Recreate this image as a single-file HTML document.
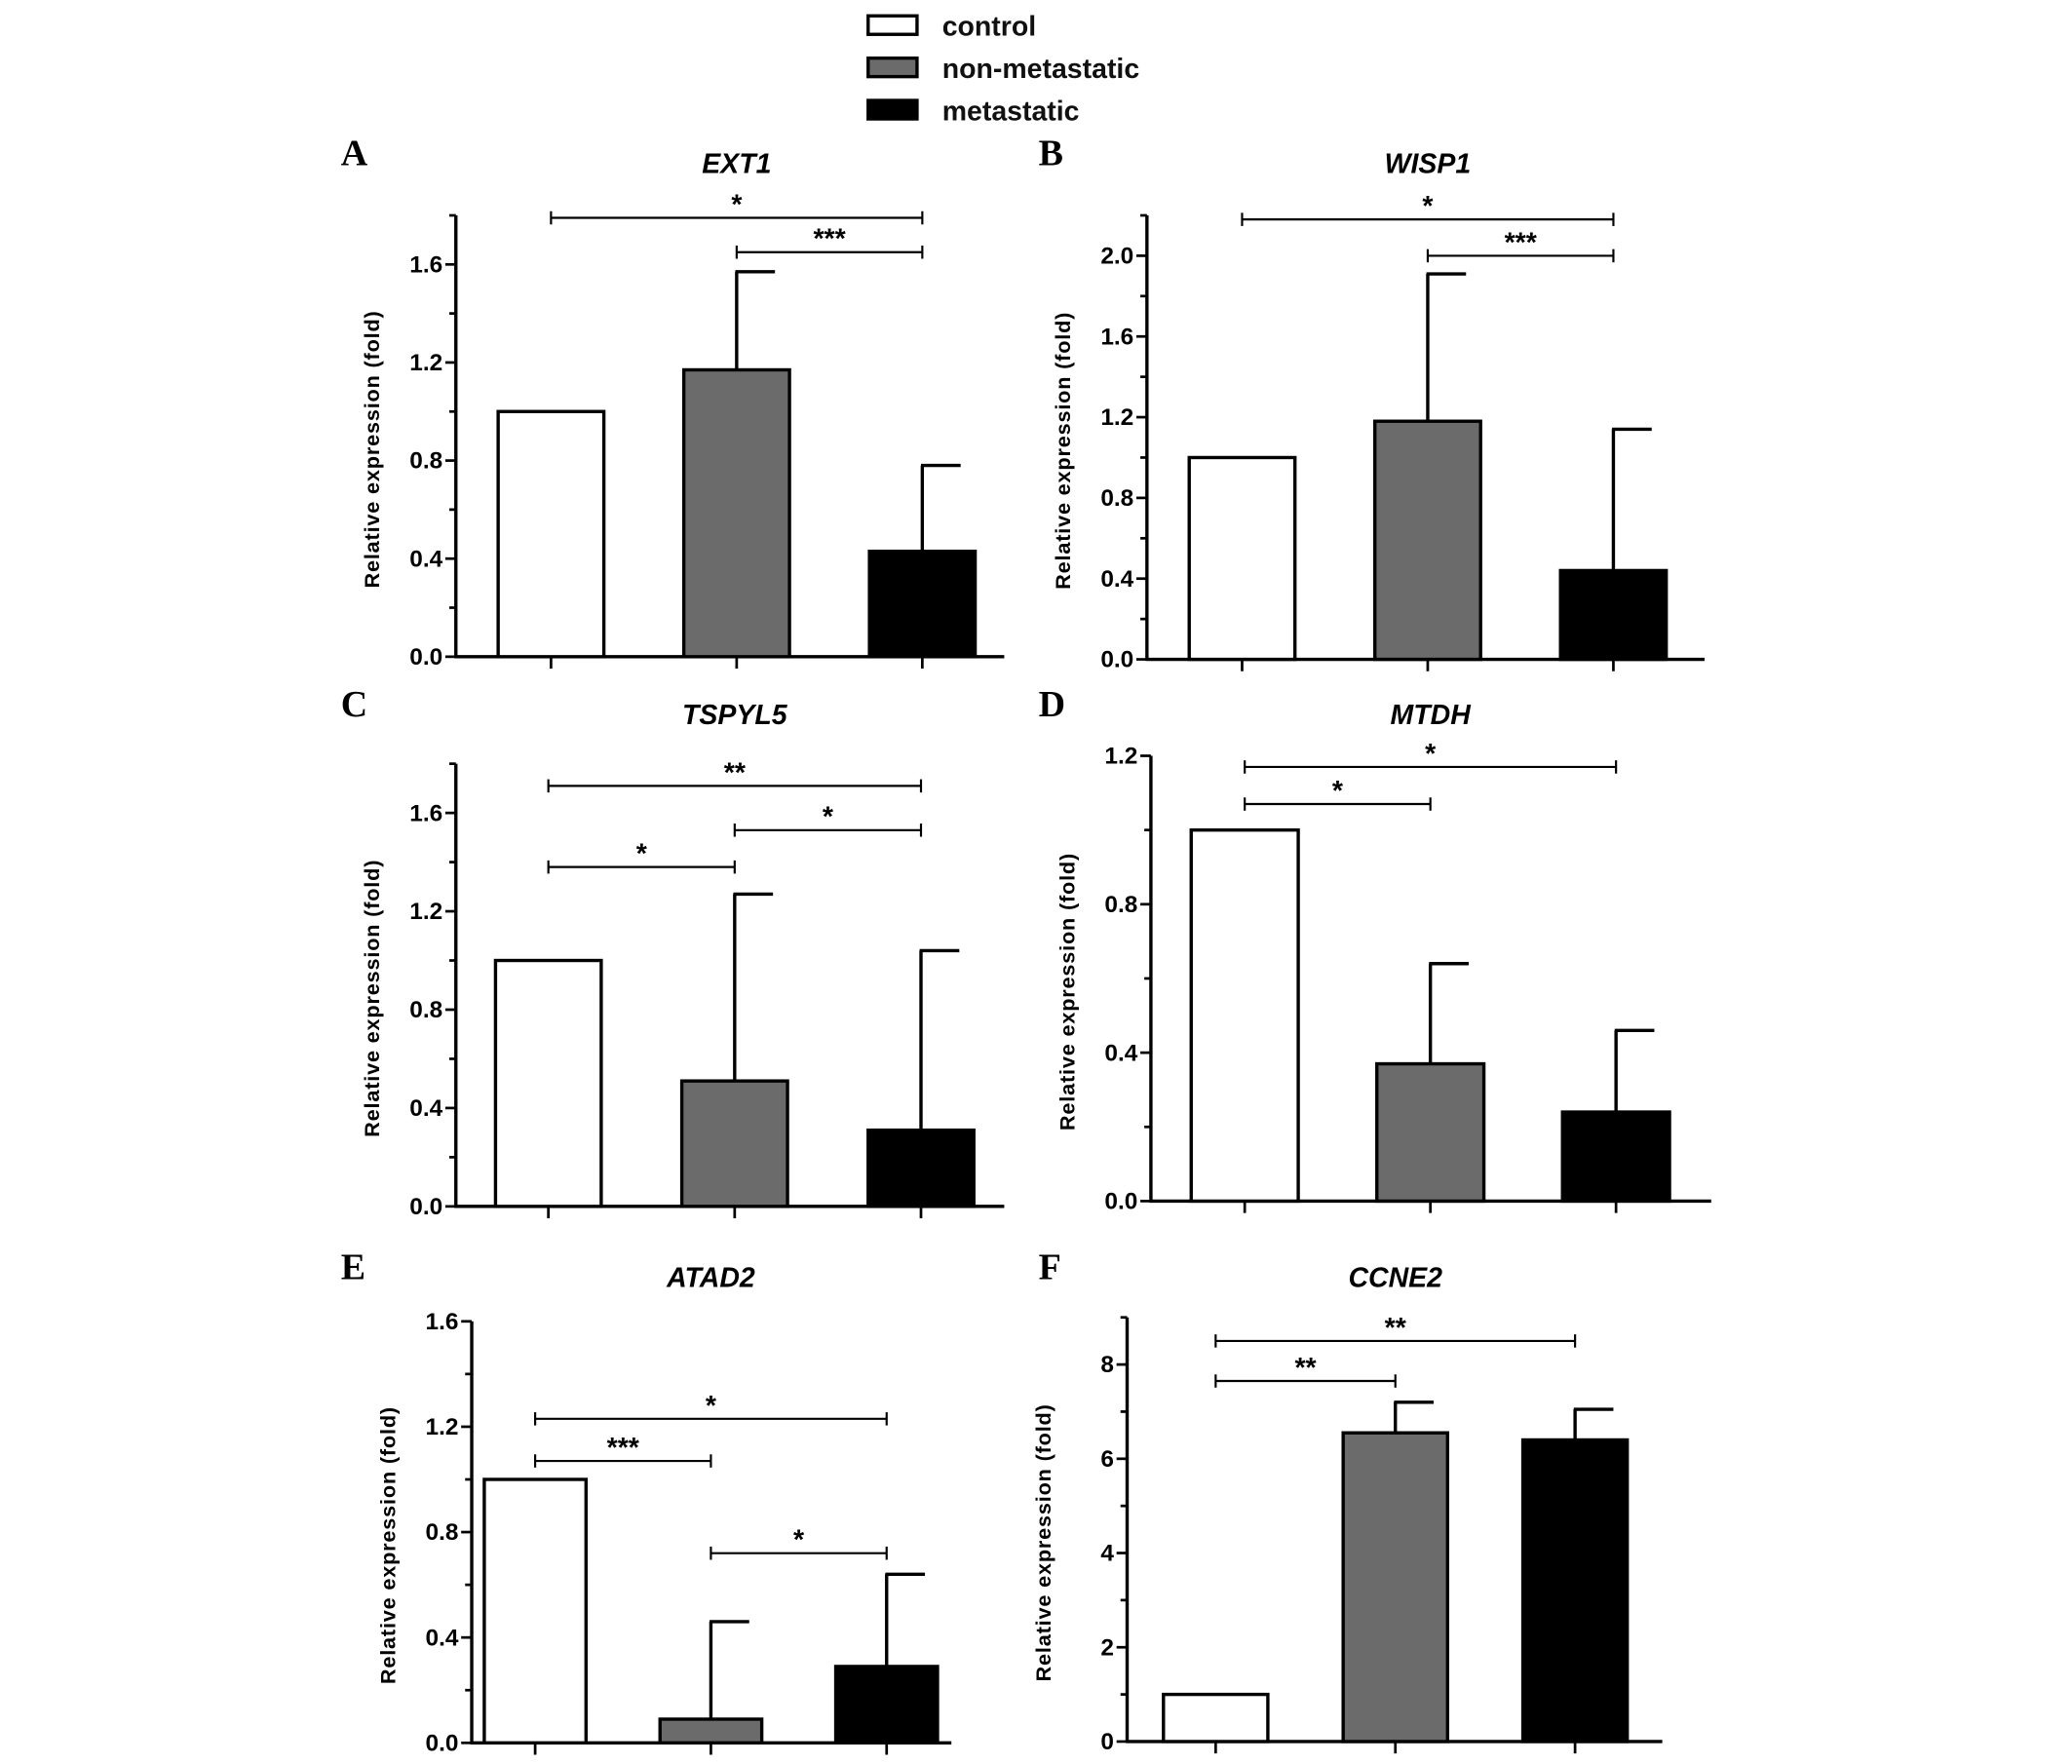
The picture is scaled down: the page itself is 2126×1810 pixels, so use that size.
<!DOCTYPE html>
<html><head><meta charset="utf-8"><style>
html,body{margin:0;padding:0;background:#fff;}
svg{display:block;}
text{font-family:"Liberation Sans",Arial,sans-serif;}
text.serif{font-family:"Liberation Serif","Times New Roman",serif;}
</style></head><body>
<svg id="fig" width="2126" height="1810" viewBox="0 0 1568 1335" preserveAspectRatio="xMinYMin meet" xmlns="http://www.w3.org/2000/svg">
<g>
  <rect x="657" y="12" width="37" height="14" fill="#fff" stroke="#000" stroke-width="2.5"/>
  <text x="713" y="27" font-size="21" font-weight="bold" fill="#111">control</text>
  <rect x="657" y="44" width="37" height="14" fill="#6b6b6b" stroke="#000" stroke-width="2.5"/>
  <text x="713" y="59" font-size="21" font-weight="bold" fill="#111">non-metastatic</text>
  <rect x="657" y="76" width="37" height="14" fill="#000" stroke="#000" stroke-width="2.5"/>
  <text x="713" y="91" font-size="21" font-weight="bold" fill="#111">metastatic</text>
</g>
</svg>
<script>
// ---- data ----
const genes = ["EXT1","WISP1","TSPYL5","MTDH","ATAD2","CCNE2"];
const panelLetters = ["A","B","C","D","E","F"];
const categories = ["control","non-metastatic","metastatic"];
const meanA = [1.0, 1.17, 0.43];
const errA  = [1.0, 1.57, 0.78];
const meanB = [1.0, 1.18, 0.44];
const errB  = [1.0, 1.91, 1.14];
const meanC = [1.0, 0.51, 0.31];
const errC  = [1.0, 1.27, 1.04];
const meanD = [1.0, 0.37, 0.24];
const errD  = [1.0, 0.64, 0.46];
const meanE = [1.0, 0.09, 0.29];
const errE  = [1.0, 0.46, 0.64];
const meanF = [1.0, 6.55, 6.4];
const errF  = [1.0, 7.2, 7.05];
const ticksA = ["0.0","0.4","0.8","1.2","1.6"];
const ticksB = ["0.0","0.4","0.8","1.2","1.6","2.0"];
const ticksC = ["0.0","0.4","0.8","1.2","1.6"];
const ticksD = ["0.0","0.4","0.8","1.2"];
const ticksE = ["0.0","0.4","0.8","1.2","1.6"];
const ticksF = ["0","2","4","6","8"];
// significance brackets: [from, to, level, label]
const sigA = [[0,2,1.79,"*"],[1,2,1.65,"***"]];
const sigB = [[0,2,2.18,"*"],[1,2,2.0,"***"]];
const sigC = [[0,2,1.71,"**"],[1,2,1.53,"*"],[0,1,1.38,"*"]];
const sigD = [[0,2,1.17,"*"],[0,1,1.07,"*"]];
const sigE = [[0,2,1.23,"*"],[0,1,1.07,"***"],[1,2,0.72,"*"]];
const sigF = [[0,2,8.5,"**"],[0,1,7.65,"**"]];

const means=[meanA,meanB,meanC,meanD,meanE,meanF];
const errs=[errA,errB,errC,errD,errE,errF];
const ticks=[ticksA,ticksB,ticksC,ticksD,ticksE,ticksF];
const sigs=[sigA,sigB,sigC,sigD,sigE,sigF];
// layout (pixel geometry, not data)
const layout=[
 {ax:345,y0:497,top:163,xEnd:760,first:417,step:140.5,bw:80,tickStep:0.4,minor:0.2,ymax:1.8,letterX:258,titleY:131},
 {ax:868,y0:499,top:163,xEnd:1290,first:940,step:140.5,bw:80,tickStep:0.4,minor:0.2,ymax:2.2,letterX:786,titleY:131},
 {ax:345,y0:913,top:578,xEnd:760,first:415,step:141,bw:80,tickStep:0.4,minor:0.2,ymax:1.8,letterX:258,titleY:548},
 {ax:871,y0:909,top:572,xEnd:1295,first:942,step:140.5,bw:81,tickStep:0.4,minor:0.2,ymax:1.2,letterX:786,titleY:548},
 {ax:357,y0:1319,top:1000,xEnd:720,first:405,step:133,bw:77,tickStep:0.4,minor:0.2,ymax:1.6,letterX:258,titleY:974},
 {ax:853,y0:1318,top:997,xEnd:1258,first:920,step:136,bw:79,tickStep:2,minor:1,ymax:9,letterX:786,titleY:974}
];
const fills=["#fff","#6b6b6b","#000"];
const NS="http://www.w3.org/2000/svg";
const svg=document.getElementById('fig');
function mk(tag,attrs,parent){const e=document.createElementNS(NS,tag);for(const k in attrs)e.setAttribute(k,attrs[k]);parent.appendChild(e);return e;}

for(let p=0;p<6;p++){
  const L=layout[p];
  const ys=v=>L.y0-(v/L.ymax)*(L.y0-L.top);
  const xs=i=>L.first+i*L.step;
  const g=mk('g',{},svg);
  
  
  const letter=mk('text',{x:L.letterX,y:L.titleY-6,'font-size':28,'font-weight':'bold','class':'serif'},g);
  letter.textContent=panelLetters[p];
  
  
  const title=mk('text',{x:xs(1),y:L.titleY,'font-size':21,'font-weight':'bold','font-style':'italic','text-anchor':'middle'},g);
  title.textContent=genes[p];
  
  
  const yax=mk('line',{x1:L.ax,y1:L.top,x2:L.ax,y2:L.y0+1,stroke:'#000','stroke-width':2.5},g);
  
  
  const xax=mk('line',{x1:L.ax-1,y1:L.y0,x2:L.xEnd,y2:L.y0,stroke:'#000','stroke-width':2.5},g);
  
  
  for(let v=0;v<=L.ymax+1e-9;v+=L.minor){
    const major=Math.abs(v/L.tickStep-Math.round(v/L.tickStep))<1e-6;
    mk('line',{x1:L.ax-(major?8:5),y1:ys(v),x2:L.ax,y2:ys(v),stroke:'#000','stroke-width':2},g);
  }
  ticks[p].forEach(t=>{
    const tl=mk('text',{x:L.ax-10,y:ys(Number(t))+6,'font-size':18,'font-weight':'bold','text-anchor':'end'},g);
    tl.textContent=t;
    
    
  });
  const yl=mk('text',{transform:`translate(${L.ax-58},${(L.y0+L.top)/2+10}) rotate(-90)`,'font-size':16,'font-weight':'bold','text-anchor':'middle','letter-spacing':'0.6'},g);
  yl.textContent='Relative expression (fold)';
  
  
  for(let i=0;i<3;i++){
    const cx=xs(i);
    mk('line',{x1:cx,y1:L.y0,x2:cx,y2:L.y0+9,stroke:'#000','stroke-width':2},g);
    const m=means[p][i], e=errs[p][i];
    if(e>m){
      mk('line',{x1:cx,y1:ys(m),x2:cx,y2:ys(e),stroke:'#000','stroke-width':2.5},g);
      mk('line',{x1:cx-1,y1:ys(e),x2:cx+29,y2:ys(e),stroke:'#000','stroke-width':2.5},g);
    }
    const b=mk('rect',{x:cx-L.bw/2,y:ys(m),width:L.bw,height:L.y0-ys(m),fill:fills[i],stroke:'#000','stroke-width':2.5},g);
    
    
  }
  sigs[p].forEach(s=>{
    const y=ys(s[2]), x1=xs(s[0]), x2=xs(s[1]);
    const br=mk('g',{},g);
    
    
    mk('line',{x1:x1,y1:y,x2:x2,y2:y,stroke:'#000','stroke-width':1.6},br);
    mk('line',{x1:x1,y1:y-5,x2:x1,y2:y+5,stroke:'#000','stroke-width':1.6},br);
    mk('line',{x1:x2,y1:y-5,x2:x2,y2:y+5,stroke:'#000','stroke-width':1.6},br);
    const st=mk('text',{x:(x1+x2)/2,y:y-3,'font-size':21,'font-weight':'bold','text-anchor':'middle'},br);
    st.textContent=s[3];
  });
}
</script>
</body></html>
